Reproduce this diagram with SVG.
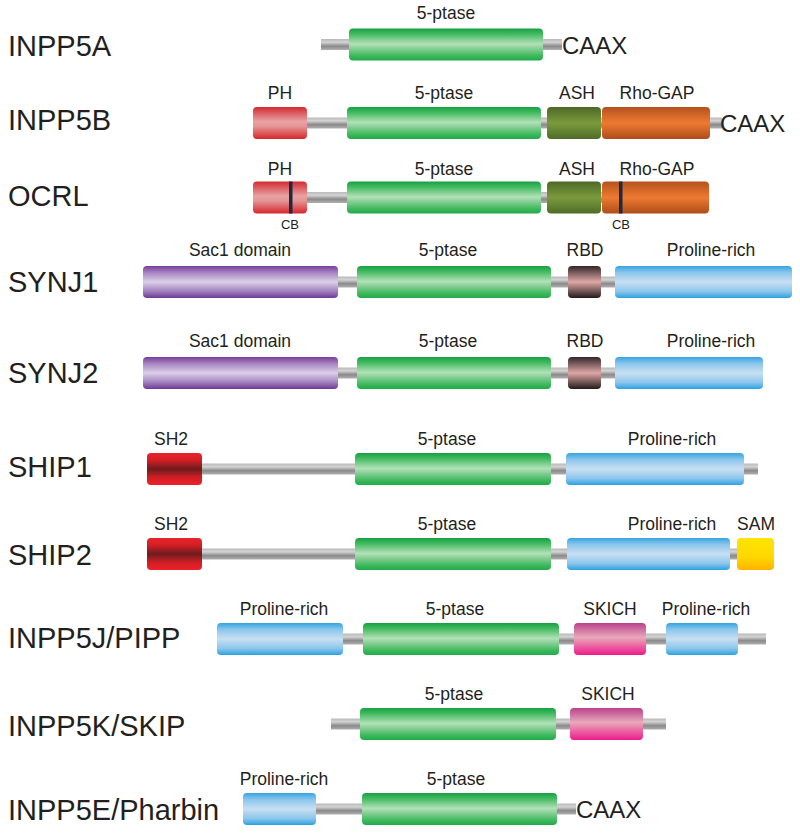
<svg xmlns="http://www.w3.org/2000/svg" width="800" height="833" viewBox="0 0 800 833">
<defs>
<linearGradient id="gGray" x1="0" y1="0" x2="0" y2="1"><stop offset="0" stop-color="#b8b8b8"/><stop offset="0.3" stop-color="#d4d4d4"/><stop offset="0.65" stop-color="#8a8a8a"/><stop offset="1" stop-color="#b0b0b0"/></linearGradient>
<linearGradient id="gGreen" x1="0" y1="0" x2="0" y2="1"><stop offset="0" stop-color="#17a043"/><stop offset="0.18" stop-color="#45bb62"/><stop offset="0.48" stop-color="#b2e1b7"/><stop offset="0.6" stop-color="#8fd29c"/><stop offset="0.85" stop-color="#3fb95d"/><stop offset="1" stop-color="#1fab4a"/></linearGradient>
<linearGradient id="gPurple" x1="0" y1="0" x2="0" y2="1"><stop offset="0" stop-color="#773d9c"/><stop offset="0.2" stop-color="#a583c0"/><stop offset="0.5" stop-color="#dcd0e8"/><stop offset="0.8" stop-color="#9f7dbc"/><stop offset="1" stop-color="#6d3995"/></linearGradient>
<linearGradient id="gBlue" x1="0" y1="0" x2="0" y2="1"><stop offset="0" stop-color="#35a4e0"/><stop offset="0.2" stop-color="#8ac5ec"/><stop offset="0.5" stop-color="#c9dff2"/><stop offset="0.8" stop-color="#8ac5ec"/><stop offset="1" stop-color="#2ba2e0"/></linearGradient>
<linearGradient id="gPH" x1="0" y1="0" x2="0" y2="1"><stop offset="0" stop-color="#d22a31"/><stop offset="0.45" stop-color="#e9a2a2"/><stop offset="0.6" stop-color="#e49696"/><stop offset="1" stop-color="#d7262b"/></linearGradient>
<linearGradient id="gSH2" x1="0" y1="0" x2="0" y2="1"><stop offset="0" stop-color="#e6252b"/><stop offset="0.22" stop-color="#d41f25"/><stop offset="0.5" stop-color="#6e1b1d"/><stop offset="0.78" stop-color="#d41f25"/><stop offset="1" stop-color="#ec2129"/></linearGradient>
<linearGradient id="gASH" x1="0" y1="0" x2="0" y2="1"><stop offset="0" stop-color="#4d6826"/><stop offset="0.5" stop-color="#7b9b3d"/><stop offset="1" stop-color="#4f6c27"/></linearGradient>
<linearGradient id="gRho" x1="0" y1="0" x2="0" y2="1"><stop offset="0" stop-color="#b5521e"/><stop offset="0.5" stop-color="#ee7a31"/><stop offset="1" stop-color="#ad4d1a"/></linearGradient>
<linearGradient id="gRBD" x1="0" y1="0" x2="0" y2="1"><stop offset="0" stop-color="#33262a"/><stop offset="0.5" stop-color="#dea7a6"/><stop offset="1" stop-color="#221a1a"/></linearGradient>
<linearGradient id="gSKICH" x1="0" y1="0" x2="0" y2="1"><stop offset="0" stop-color="#b8418b"/><stop offset="0.45" stop-color="#e9a9ba"/><stop offset="1" stop-color="#ee1b8b"/></linearGradient>
<linearGradient id="gSAM" x1="0" y1="0" x2="0" y2="1"><stop offset="0" stop-color="#ffe500"/><stop offset="0.6" stop-color="#ffd700"/><stop offset="1" stop-color="#ffb300"/></linearGradient>
</defs>
<style>
text{font-family:"Liberation Sans",Arial,sans-serif;fill:#231f20}
.name{font-size:29px}
.lbl{font-size:17.5px;text-anchor:middle}
.cb{font-size:13px;text-anchor:middle}
.caax{font-size:24px}
.bb{fill:url(#gGray)}
.d{rx:4px;ry:4px}
.green{fill:url(#gGreen)}
.purple{fill:url(#gPurple)}
.blue{fill:url(#gBlue)}
.ph{fill:url(#gPH)}
.sh2{fill:url(#gSH2)}
.ash{fill:url(#gASH)}
.rho{fill:url(#gRho)}
.rbd{fill:url(#gRBD)}
.skich{fill:url(#gSKICH)}
.sam{fill:url(#gSAM)}
.cbline{fill:#1b2a40}
</style>
<g id="backbones">
<rect class="bb" x="321" y="39" width="241" height="11"/>
<rect class="bb" x="253" y="117.5" width="469" height="11"/>
<rect class="bb" x="253" y="192" width="447" height="11"/>
<rect class="bb" x="338" y="276.5" width="277" height="11"/>
<rect class="bb" x="338" y="367.5" width="277" height="11"/>
<rect class="bb" x="147" y="463.5" width="611" height="11"/>
<rect class="bb" x="147" y="548.5" width="593" height="11"/>
<rect class="bb" x="343" y="633.5" width="423" height="11"/>
<rect class="bb" x="331" y="718.5" width="335" height="11"/>
<rect class="bb" x="316" y="803.5" width="260" height="11"/>
</g>
<g id="INPP5A">
<text class="name" x="8" y="56">INPP5A</text>
<rect class="d green" x="349" y="28.5" width="194" height="32"/>
<text class="lbl" x="446" y="19">5-ptase</text>
<text class="caax" x="562" y="54">CAAX</text>
</g>
<g id="INPP5B">
<text class="name" x="8" y="130">INPP5B</text>
<rect class="d ph" x="253" y="107" width="54" height="32"/>
<rect class="d green" x="347" y="107" width="194" height="32"/>
<rect class="d ash" x="547" y="107" width="54" height="32"/>
<rect class="d rho" x="602" y="107" width="108" height="32"/>
<text class="lbl" x="280" y="99">PH</text>
<text class="lbl" x="444" y="99">5-ptase</text>
<text class="lbl" x="577" y="99">ASH</text>
<text class="lbl" x="657" y="99">Rho-GAP</text>
<text class="caax" x="720" y="132">CAAX</text>
</g>
<g id="OCRL">
<text class="name" x="8" y="206">OCRL</text>
<rect class="d ph" x="253" y="181.5" width="54" height="32"/>
<rect class="cbline" x="289" y="181.5" width="3.5" height="32"/>
<rect class="d green" x="347" y="181.5" width="194" height="32"/>
<rect class="d ash" x="547" y="181.5" width="54" height="32"/>
<rect class="d rho" x="602" y="181.5" width="107" height="32"/>
<rect class="cbline" x="619" y="181.5" width="3.5" height="32"/>
<text class="lbl" x="280" y="175">PH</text>
<text class="lbl" x="444" y="175">5-ptase</text>
<text class="lbl" x="577" y="175">ASH</text>
<text class="lbl" x="657" y="175">Rho-GAP</text>
<text class="cb" x="290" y="229">CB</text>
<text class="cb" x="621" y="229">CB</text>
</g>
<g id="SYNJ1">
<text class="name" x="8" y="291.5">SYNJ1</text>
<rect class="d purple" x="143" y="266" width="195" height="32"/>
<rect class="d green" x="357" y="266" width="194" height="32"/>
<rect class="d rbd" x="568" y="266" width="33" height="32"/>
<rect class="d blue" x="615" y="266" width="177" height="32"/>
<text class="lbl" x="240" y="256">Sac1 domain</text>
<text class="lbl" x="448" y="256">5-ptase</text>
<text class="lbl" x="585" y="256">RBD</text>
<text class="lbl" x="711" y="256">Proline-rich</text>
</g>
<g id="SYNJ2">
<text class="name" x="8" y="383">SYNJ2</text>
<rect class="d purple" x="143" y="357" width="195" height="32"/>
<rect class="d green" x="357" y="357" width="194" height="32"/>
<rect class="d rbd" x="568" y="357" width="33" height="32"/>
<rect class="d blue" x="615" y="357" width="148" height="32"/>
<text class="lbl" x="240" y="347">Sac1 domain</text>
<text class="lbl" x="448" y="347">5-ptase</text>
<text class="lbl" x="585" y="347">RBD</text>
<text class="lbl" x="711" y="347">Proline-rich</text>
</g>
<g id="SHIP1">
<text class="name" x="8" y="476.5">SHIP1</text>
<rect class="d sh2" x="147" y="453" width="55" height="32"/>
<rect class="d green" x="355" y="453" width="196" height="32"/>
<rect class="d blue" x="566" y="453" width="178" height="32"/>
<text class="lbl" x="171" y="445">SH2</text>
<text class="lbl" x="447" y="445">5-ptase</text>
<text class="lbl" x="672" y="445">Proline-rich</text>
</g>
<g id="SHIP2">
<text class="name" x="8" y="565">SHIP2</text>
<rect class="d sh2" x="147" y="538" width="55" height="32"/>
<rect class="d green" x="355" y="538" width="196" height="32"/>
<rect class="d blue" x="567" y="538" width="163" height="32"/>
<rect class="d sam" x="737" y="538" width="37" height="32"/>
<text class="lbl" x="171" y="530">SH2</text>
<text class="lbl" x="447" y="530">5-ptase</text>
<text class="lbl" x="672" y="530">Proline-rich</text>
<text class="lbl" x="756" y="530">SAM</text>
</g>
<g id="INPP5J">
<text class="name" x="8" y="648">INPP5J/PIPP</text>
<rect class="d blue" x="217" y="623" width="126" height="32"/>
<rect class="d green" x="363" y="623" width="196" height="32"/>
<rect class="d skich" x="574" y="623" width="72" height="32"/>
<rect class="d blue" x="666" y="623" width="72" height="32"/>
<text class="lbl" x="284" y="615">Proline-rich</text>
<text class="lbl" x="455" y="615">5-ptase</text>
<text class="lbl" x="610" y="615">SKICH</text>
<text class="lbl" x="706" y="615">Proline-rich</text>
</g>
<g id="INPP5K">
<text class="name" x="8" y="736">INPP5K/SKIP</text>
<rect class="d green" x="360" y="708" width="196" height="32"/>
<rect class="d skich" x="570" y="708" width="73" height="32"/>
<text class="lbl" x="454" y="700">5-ptase</text>
<text class="lbl" x="608" y="700">SKICH</text>
</g>
<g id="INPP5E">
<text class="name" x="8" y="819.5">INPP5E/Pharbin</text>
<rect class="d blue" x="243" y="793" width="73" height="32"/>
<rect class="d green" x="362" y="793" width="195" height="32"/>
<text class="lbl" x="284" y="785">Proline-rich</text>
<text class="lbl" x="456" y="785">5-ptase</text>
<text class="caax" x="576" y="818">CAAX</text>
</g>
</svg>
